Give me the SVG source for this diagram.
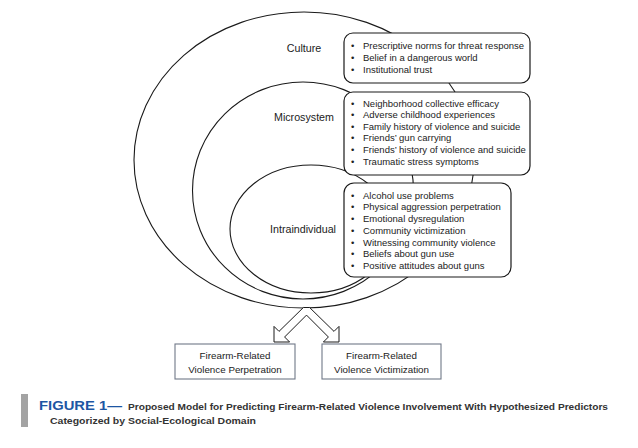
<svg xmlns="http://www.w3.org/2000/svg" width="638" height="448" viewBox="0 0 638 448">
<style>
.ring{fill:none;stroke:#1a1a1a;stroke-width:1.1}
.list{fill:#fff;stroke:#1a1a1a;stroke-width:1.2}
.lbl{font-family:"Liberation Sans",Arial,sans-serif;font-size:10.7px;fill:#222;text-anchor:middle}
.item{font-family:"Liberation Sans",Arial,sans-serif;font-size:9.5px;fill:#222}
.out{fill:#fff;stroke:#707888;stroke-width:1.1}
.otxt{font-family:"Liberation Sans",Arial,sans-serif;font-size:9.8px;fill:#222;text-anchor:middle}
.arrow{fill:#fff;stroke:#1a1a1a;stroke-width:1;stroke-linejoin:miter}
.cap{font-family:"Liberation Sans",Arial,sans-serif;font-weight:bold;fill:#333;font-size:9.8px}
</style>
<rect width="638" height="448" fill="#fff"/>

<g id="culture">
<ellipse class="ring" cx="304" cy="160" rx="170" ry="148"/>
<text class="lbl" x="304" y="52">Culture</text>
</g>
<g id="microsystem">
<ellipse class="ring" cx="303" cy="190.5" rx="110.5" ry="108.5"/>
<text class="lbl" x="304" y="121">Microsystem</text>
</g>
<g id="intraindividual">
<ellipse class="ring" cx="311" cy="229" rx="81" ry="64"/>
<text class="lbl" x="303" y="233">Intraindividual</text>
</g>

<g id="culture-predictors">
<rect class="list" x="344" y="33" width="186" height="50" rx="9"/>
<text class="item"><tspan x="351" y="49.3">•</tspan><tspan x="363" y="49.3">Prescriptive norms for threat response</tspan><tspan x="351" y="61">•</tspan><tspan x="363" y="61">Belief in a dangerous world</tspan><tspan x="351" y="72.6">•</tspan><tspan x="363" y="72.6">Institutional trust</tspan></text>
</g>
<g id="microsystem-predictors">
<rect class="list" x="344" y="92" width="186" height="83" rx="9"/>
<text class="item"><tspan x="351" y="106.5">•</tspan><tspan x="363" y="106.5">Neighborhood collective efficacy</tspan><tspan x="351" y="118.1">•</tspan><tspan x="363" y="118.1">Adverse childhood experiences</tspan><tspan x="351" y="129.7">•</tspan><tspan x="363" y="129.7">Family history of violence and suicide</tspan><tspan x="351" y="141.3">•</tspan><tspan x="363" y="141.3">Friends’ gun carrying</tspan><tspan x="351" y="152.9">•</tspan><tspan x="363" y="152.9">Friends’ history of violence and suicide</tspan><tspan x="351" y="164.5">•</tspan><tspan x="363" y="164.5">Traumatic stress symptoms</tspan></text>
</g>
<g id="intraindividual-predictors">
<rect class="list" x="344" y="183" width="167" height="94" rx="10"/>
<text class="item"><tspan x="351" y="198.5">•</tspan><tspan x="363" y="198.5">Alcohol use problems</tspan><tspan x="351" y="210.3">•</tspan><tspan x="363" y="210.3">Physical aggression perpetration</tspan><tspan x="351" y="222">•</tspan><tspan x="363" y="222">Emotional dysregulation</tspan><tspan x="351" y="233.8">•</tspan><tspan x="363" y="233.8">Community victimization</tspan><tspan x="351" y="245.6">•</tspan><tspan x="363" y="245.6">Witnessing community violence</tspan><tspan x="351" y="257.4">•</tspan><tspan x="363" y="257.4">Beliefs about gun use</tspan><tspan x="351" y="269.2">•</tspan><tspan x="363" y="269.2">Positive attitudes about guns</tspan></text>
</g>

<g id="connectors">
<polygon class="arrow" points="303.4,307.5 279,331.4 274,326.4 274,342 289.6,342 284.6,337 306.5,315.1 328.4,337 323.4,342 339,342 339,326.4 334,331.4 309.6,307.5"/>
</g>

<g id="perpetration">
<rect class="out" x="175" y="344" width="120" height="35"/>
<text class="otxt" x="235" y="358.5">Firearm-Related</text>
<text class="otxt" x="235" y="372.5">Violence Perpetration</text>
</g>
<g id="victimization">
<rect class="out" x="322" y="344" width="119" height="35"/>
<text class="otxt" x="381.5" y="358.5">Firearm-Related</text>
<text class="otxt" x="381.5" y="372.5">Violence Victimization</text>
</g>

<g id="caption">
<rect x="21" y="394" width="7" height="33" fill="#a3a3a3"/>
<text x="39" y="410" font-family="'Liberation Sans',Arial,sans-serif" font-weight="bold" font-size="13.5" fill="#1d56a3" textLength="83" lengthAdjust="spacingAndGlyphs">FIGURE 1—</text>
<text class="cap" x="128" y="410" textLength="480" lengthAdjust="spacingAndGlyphs">Proposed Model for Predicting Firearm-Related Violence Involvement With Hypothesized Predictors</text>
<text class="cap" x="50" y="423.5" textLength="206" lengthAdjust="spacingAndGlyphs">Categorized by Social-Ecological Domain</text>
</g>
</svg>
